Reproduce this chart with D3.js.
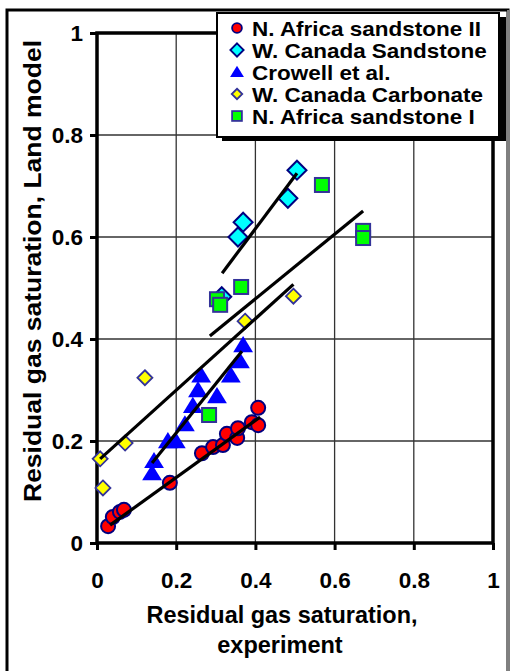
<!DOCTYPE html>
<html lang="en">
<head>
  <meta charset="UTF-8">
  <title>Residual gas saturation</title>
  <style>
    body { margin: 0; background: #fff; }
    text { font-family: "Liberation Sans", Arial, sans-serif; font-weight: bold; fill: #000; }
  </style>
</head>
<body>
  <script src="https://d3js.org/d3.v7.min.js"></script>
  <script>
    // series: [experiment, Land model]
    const africaII = [
      [0.028, 0.033], [0.040, 0.051], [0.058, 0.061], [0.068, 0.065],
      [0.184, 0.118], [0.265, 0.176], [0.293, 0.188], [0.318, 0.192],
      [0.328, 0.214], [0.354, 0.206], [0.356, 0.225], [0.391, 0.237],
      [0.407, 0.231], [0.407, 0.265]
    ]
    const canadaSand = [
      [0.505, 0.731], [0.482, 0.676], [0.369, 0.629], [0.356, 0.600], [0.315, 0.483]
    ]
    const crowell = [
      [0.139, 0.137], [0.144, 0.161], [0.179, 0.200], [0.199, 0.200],
      [0.222, 0.233], [0.242, 0.269], [0.255, 0.300], [0.263, 0.329],
      [0.303, 0.288], [0.338, 0.329], [0.361, 0.357], [0.369, 0.388]
    ]
    const canadaCarb = [
      [0.008, 0.165], [0.015, 0.108], [0.071, 0.196], [0.121, 0.324],
      [0.374, 0.435], [0.496, 0.484]
    ]
    const africaI = [
      [0.568, 0.702], [0.672, 0.612], [0.672, 0.598], [0.364, 0.502],
      [0.303, 0.478], [0.311, 0.467], [0.283, 0.251]
    ]
    // trend lines, two end points each
    const fitAfricaII = [[0.033, 0.035], [0.412, 0.247]]
    const fitCanadaSand = [[0.316, 0.529], [0.505, 0.725]]
    const fitCrowell = [[0.139, 0.157], [0.366, 0.376]]
    const fitCanadaCarb = [[0.008, 0.165], [0.496, 0.507]]
    const fitAfricaI = [[0.285, 0.406], [0.672, 0.651]]

    const ticks = [0, 0.2, 0.4, 0.6, 0.8, 1]
    const tickLabels = ['0', '0.2', '0.4', '0.6', '0.8', '1']
    const legendNames = [
      'N. Africa sandstone II', 'W. Canada Sandstone', 'Crowell et al.',
      'W. Canada Carbonate', 'N. Africa sandstone I'
    ]

    const width = 512
    const height = 671
    const m = { left: 97, right: 19, top: 33, bottom: 128 }

    const x = d3.scaleLinear().domain([0, 1]).range([m.left, width - m.right])
    const y = d3.scaleLinear().domain([0, 1]).range([height - m.bottom, m.top])

    const svg = d3.select('body').append('svg')
      .attr('width', width)
      .attr('height', height)

    // outer frame
    svg.append('path')
      .attr('d', 'M7,671 V10 H508 V671')
      .attr('fill', 'none')
      .attr('stroke', '#000')
      .attr('stroke-width', 3)
    svg.append('line')
      .attr('x1', 508).attr('x2', 508).attr('y1', 10).attr('y2', 671)
      .attr('stroke', '#fff').attr('stroke-width', 1)

    // grid
    const grid = svg.append('g')
    grid.selectAll('.gx').data(ticks.slice(1, -1)).enter().append('line')
      .attr('x1', d => x(d)).attr('x2', d => x(d))
      .attr('y1', y(0)).attr('y2', y(1))
      .attr('stroke', '#333').attr('stroke-width', 1.3)
    grid.selectAll('.gy').data(ticks.slice(1, -1)).enter().append('line')
      .attr('x1', x(0)).attr('x2', x(1))
      .attr('y1', d => y(d)).attr('y2', d => y(d))
      .attr('stroke', '#333').attr('stroke-width', 1.3)

    // axes
    const xAxis = svg.append('g')
      .attr('transform', `translate(0,${y(0)})`)
      .call(d3.axisBottom(x).tickValues(ticks).tickFormat((d, i) => tickLabels[i]).tickSize(7).tickPadding(22))
    const yAxis = svg.append('g')
      .attr('transform', `translate(${x(0)},0)`)
      .call(d3.axisLeft(y).tickValues(ticks).tickFormat((d, i) => tickLabels[i]).tickSize(7).tickPadding(7))
    for (const ax of [xAxis, yAxis]) {
      ax.select('.domain').remove()
      ax.selectAll('line').attr('stroke', '#000').attr('stroke-width', 3)
      ax.selectAll('text')
        .attr('font-family', '"Liberation Sans", Arial, sans-serif')
        .attr('font-weight', 'bold')
        .attr('font-size', 22.5)
        .attr('fill', '#000')
    }

    // plot border
    svg.append('rect')
      .attr('x', x(0)).attr('y', y(1))
      .attr('width', x(1) - x(0)).attr('height', y(0) - y(1))
      .attr('fill', 'none').attr('stroke', '#000').attr('stroke-width', 3.5)

    // markers
    const diamond = s => `M0,${-s} L${s},0 L0,${s} L${-s},0 Z`
    const triangle = s => `M0,${-s} L${s * 1.1},${s * 0.8} L${-s * 1.1},${s * 0.8} Z`
    const styles = [
      { data: africaII, draw: (g, k) => g.append('circle').attr('r', 7 * k), fill: '#ff0000', stroke: '#000080', sw: 2 },
      { data: canadaSand, draw: (g, k) => g.append('path').attr('d', diamond(9.5 * k)), fill: '#00ffff', stroke: '#000080', sw: 2 },
      { data: crowell, draw: (g, k) => g.append('path').attr('d', triangle(9 * k)), fill: '#0000ff', stroke: 'none', sw: 0 },
      { data: canadaCarb, draw: (g, k) => g.append('path').attr('d', diamond(7.5 * k)), fill: '#ffff00', stroke: '#333399', sw: 1.8 },
      { data: africaI, draw: (g, k) => g.append('rect').attr('x', -7 * k).attr('y', -7 * k).attr('width', 14 * k).attr('height', 14 * k), fill: '#00ff00', stroke: '#333399', sw: 2 }
    ]

    styles.forEach(st => {
      svg.append('g').selectAll('g').data(st.data).enter().append('g')
        .attr('transform', d => `translate(${x(d[0])},${y(d[1])})`)
        .each(function () {
          st.draw(d3.select(this), 1)
            .attr('fill', st.fill).attr('stroke', st.stroke).attr('stroke-width', st.sw)
        })
    })

    // trend lines
    const line = d3.line().x(d => x(d[0])).y(d => y(d[1]))
    svg.append('g').selectAll('path')
      .data([fitAfricaII, fitCanadaSand, fitCrowell, fitCanadaCarb, fitAfricaI])
      .enter().append('path')
      .attr('d', line)
      .attr('fill', 'none')
      .attr('stroke', '#000')
      .attr('stroke-width', 3.2)

    // axis titles
    svg.append('text')
      .attr('x', 282).attr('y', 623)
      .attr('text-anchor', 'middle')
      .attr('font-size', 23.5)
      .attr('textLength', 271)
      .attr('lengthAdjust', 'spacingAndGlyphs')
      .text('Residual gas saturation,')
    svg.append('text')
      .attr('x', 280).attr('y', 653)
      .attr('text-anchor', 'middle')
      .attr('font-size', 23.5)
      .text('experiment')
    svg.append('text')
      .attr('transform', 'translate(41,271) rotate(-90)')
      .attr('text-anchor', 'middle')
      .attr('font-size', 24)
      .attr('textLength', 462)
      .attr('lengthAdjust', 'spacingAndGlyphs')
      .text('Residual gas saturation, Land model')

    // legend
    const lg = svg.append('g')
    lg.append('rect')
      .attr('x', 222).attr('y', 17).attr('width', 284).attr('height', 124)
      .attr('fill', '#000')
    lg.append('rect')
      .attr('x', 217).attr('y', 13).attr('width', 282).attr('height', 124)
      .attr('fill', '#fff').attr('stroke', '#000').attr('stroke-width', 2)
    const rows = lg.selectAll('.row').data(legendNames).enter().append('g')
      .attr('transform', (d, i) => `translate(237,${28 + i * 22})`)
    rows.each(function (d, i) {
      const st = styles[i]
      st.draw(d3.select(this), 0.7)
        .attr('fill', st.fill).attr('stroke', st.stroke).attr('stroke-width', st.sw ? 1.8 : 0)
    })
    rows.append('text')
      .attr('x', 15).attr('y', 7.5)
      .attr('font-size', 21)
      .text(d => d)
      .each(function () {
        // the picture's legend type is a little wider than this font
        const w = this.getComputedTextLength()
        d3.select(this).attr('textLength', w * 1.07).attr('lengthAdjust', 'spacingAndGlyphs')
      })
  </script>
</body>
</html>
